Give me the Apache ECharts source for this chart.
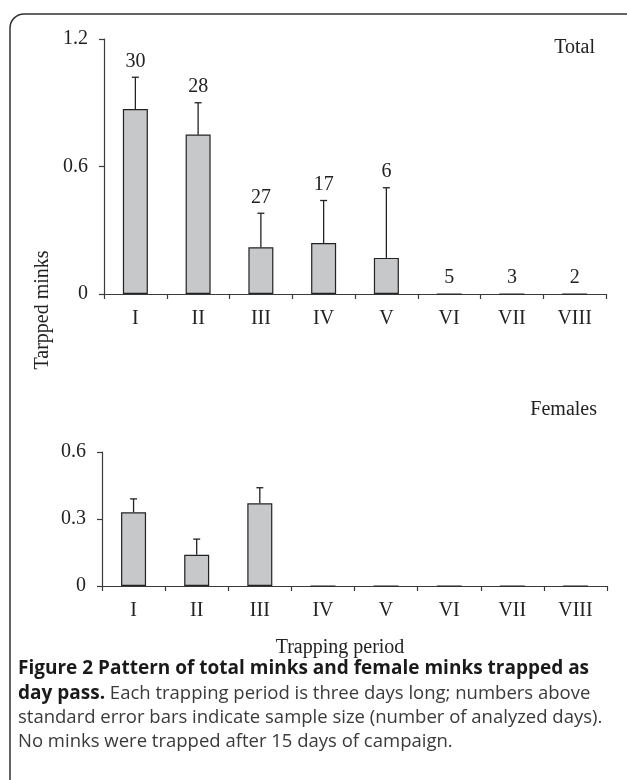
<!DOCTYPE html>
<html>
<head>
<meta charset="utf-8">
<script src="https://cdn.jsdelivr.net/npm/echarts@6/dist/echarts.min.js"></script>
<style>
  html, body { margin: 0; padding: 0; background: #fff; }
  #chart { width: 627px; height: 780px; }
</style>
</head>
<body>
<div id="chart"></div>
<script>
// trapping periods
const periods = ['I', 'II', 'III', 'IV', 'V', 'VI', 'VII', 'VIII'];
// sample size (number of analyzed days)
const sampleSize = [30, 28, 27, 17, 6, 5, 3, 2];

// total minks: mean and standard error
const totalMean = [0.87, 0.75, 0.22, 0.24, 0.17, 0, 0, 0];
const totalSE = [0.15, 0.15, 0.16, 0.20, 0.33, 0, 0, 0];

// females: mean and standard error
const femaleMean = [0.33, 0.14, 0.37, 0, 0, 0, 0, 0];
const femaleSE = [0.06, 0.07, 0.07, 0, 0, 0, 0, 0];

const serif = '"Liberation Serif", "Times New Roman", serif';
const sans = '"Open Sans", "Noto Sans", sans-serif';
const axisColor = '#3a3a3a';
const fs = 20;

const chart = echarts.init(document.getElementById('chart'), null, { renderer: 'canvas' });

function errorItems(mean, se, labels) {
    return mean.map((m, i) => [i, m, m + se[i], labels ? labels[i] : null]);
}

function renderError(params, api) {
    const idx = api.value(0);
    const base = api.coord([idx, api.value(1)]);
    const top = api.coord([idx, api.value(2)]);
    const label = api.value(3);
    const children = [];
    if (api.value(2) > api.value(1)) {
        children.push({
            type: 'line',
            shape: { x1: base[0], y1: base[1], x2: top[0], y2: top[1] },
            style: { stroke: '#222', lineWidth: 1.3 }
        });
        children.push({
            type: 'line',
            shape: { x1: top[0] - 3.5, y1: top[1], x2: top[0] + 3.5, y2: top[1] },
            style: { stroke: '#222', lineWidth: 1.3 }
        });
    }
    if (label !== null && label !== undefined && !isNaN(label)) {
        children.push({
            type: 'text',
            x: top[0],
            y: top[1] - 6,
            style: {
                text: String(label),
                fontFamily: serif,
                fontSize: fs,
                fill: '#222',
                align: 'center',
                verticalAlign: 'bottom'
            }
        });
    }
    return { type: 'group', children: children };
}

function xAxisCfg(grid) {
    return {
        type: 'category',
        gridIndex: grid,
        data: periods,
        boundaryGap: true,
        axisLine: { lineStyle: { color: axisColor, width: 1.2 } },
        axisTick: { show: true, alignWithLabel: false, length: 5, inside: false, lineStyle: { color: axisColor, width: 1.2 } },
        axisLabel: { fontFamily: serif, fontSize: fs, color: '#222', margin: 15 },
        splitLine: { show: false }
    };
}

function yAxisCfg(grid, max, interval) {
    return {
        type: 'value',
        gridIndex: grid,
        min: 0,
        max: max,
        interval: interval,
        axisLine: { show: true, lineStyle: { color: axisColor, width: 1.2 } },
        axisTick: { show: true, length: 5, lineStyle: { color: axisColor, width: 1.2 } },
        axisLabel: { fontFamily: serif, fontSize: fs, color: '#222', margin: 16 },
        splitLine: { show: false }
    };
}

const barStyle = { color: '#c7c8ca', borderColor: '#222', borderWidth: 1.2 };

const option = {
    animation: false,
    backgroundColor: '#fff',
    grid: [
        { left: 104, right: 21, top: 39, height: 255 },
        { left: 102, right: 20, top: 452, height: 134 }
    ],
    xAxis: [xAxisCfg(0), xAxisCfg(1)],
    yAxis: [yAxisCfg(0, 1.2, 0.6), yAxisCfg(1, 0.6, 0.3)],
    series: [
        {
            type: 'bar',
            xAxisIndex: 0,
            yAxisIndex: 0,
            data: totalMean,
            barWidth: 25,
            itemStyle: barStyle
        },
        {
            type: 'custom',
            xAxisIndex: 0,
            yAxisIndex: 0,
            renderItem: renderError,
            data: errorItems(totalMean, totalSE, sampleSize),
            z: 5
        },
        {
            type: 'bar',
            xAxisIndex: 1,
            yAxisIndex: 1,
            data: femaleMean,
            barWidth: 25,
            itemStyle: barStyle
        },
        {
            type: 'custom',
            xAxisIndex: 1,
            yAxisIndex: 1,
            renderItem: renderError,
            data: errorItems(femaleMean, femaleSE, null),
            z: 5
        }
    ],
    graphic: [
        // figure frame (rounded top-left corner)
        {
            type: 'rect',
            shape: { x: 10, y: 14, width: 660, height: 820, r: 14 },
            style: { fill: null, stroke: '#333', lineWidth: 1.5 },
            silent: true
        },
        {
            type: 'text', x: 595, y: 48,
            style: { text: 'Total', fontFamily: serif, fontSize: fs, fill: '#222', align: 'right', verticalAlign: 'middle' }
        },
        {
            type: 'text', x: 597, y: 410,
            style: { text: 'Females', fontFamily: serif, fontSize: fs, fill: '#222', align: 'right', verticalAlign: 'middle' }
        },
        {
            type: 'text', x: 43, y: 310, rotation: Math.PI / 2,
            style: { text: 'Tarpped minks', fontFamily: serif, fontSize: fs, fill: '#222', align: 'center', verticalAlign: 'middle' }
        },
        {
            type: 'text', x: 340, y: 648,
            style: { text: 'Trapping period', fontFamily: serif, fontSize: fs, fill: '#222', align: 'center', verticalAlign: 'middle' }
        },
        {
            type: 'text', x: 18, y: 669,
            style: { text: 'Figure 2 Pattern of total minks and female minks trapped as', fontFamily: sans, fontWeight: 'bold', fontSize: 19, fill: '#1a1a1a', verticalAlign: 'middle' }
        },
        {
            type: 'text', x: 18, y: 694,
            style: {
                text: '{b|day pass.} Each trapping period is three days long; numbers above',
                fontFamily: sans, fontSize: 18.5, fill: '#3a3a3a', verticalAlign: 'middle',
                rich: { b: { fontFamily: sans, fontWeight: 'bold', fontSize: 19, fill: '#1a1a1a' } }
            }
        },
        {
            type: 'text', x: 18, y: 718,
            style: { text: 'standard error bars indicate sample size (number of analyzed days).', fontFamily: sans, fontSize: 18.5, fill: '#3a3a3a', verticalAlign: 'middle' }
        },
        {
            type: 'text', x: 18, y: 742,
            style: { text: 'No minks were trapped after 15 days of campaign.', fontFamily: sans, fontSize: 18.5, fill: '#3a3a3a', verticalAlign: 'middle' }
        }
    ]
};

chart.setOption(option);
</script>
</body>
</html>
